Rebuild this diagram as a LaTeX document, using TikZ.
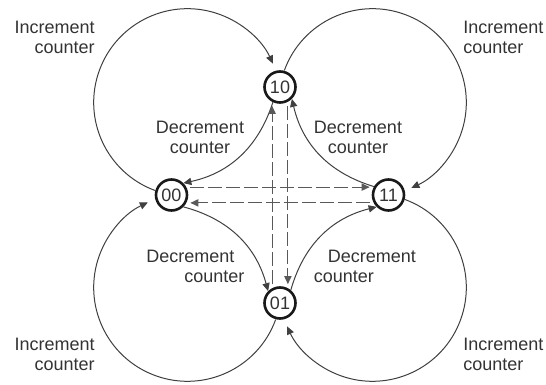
\documentclass[tikz,border=0pt]{standalone}
\usepackage{fontspec}
\setmainfont{Liberation Sans}
\usetikzlibrary{arrows.meta}

\begin{document}
\begin{tikzpicture}[x=0.5pt, y=0.5pt,
  state/.style={circle, draw=black!90, line width=1.3pt, minimum size=15.5pt, inner sep=0pt,
    font=\fontsize{9}{10}\selectfont, text=black!80},
  lbl/.style={font=\fontsize{9}{10}\selectfont, text=black!80, inner sep=0pt},
  flow/.style={draw=black!75, line width=0.5pt, -{Triangle[length=4pt,width=3.6pt]}},
  jump/.style={flow, draw=black!65, line width=0.6pt, dash pattern=on 7pt off 2pt,
    shorten >=2pt, shorten <=2pt}]
\useasboundingbox (0,0) rectangle (546,385);

% states
\node[state] (s10) at (280,298) {10};
\node[state] (s00) at (171.5,190) {00};
\node[state] (s11) at (388.5,190) {11};
\node[state] (s01) at (280,82) {01};

% centres of the four loops
\coordinate (C1) at (187.5,282.5);
\coordinate (C2) at (372.5,282.5);
\coordinate (C3) at (372.5,97.5);
\coordinate (C4) at (187.5,97.5);

% increment: round the outside
\draw[flow] ([shift={(250:46.9pt)}]C1) arc[start angle=250, end angle=24.5, radius=46.9pt];
\draw[flow] ([shift={(160:46.9pt)}]C2) arc[start angle=160, end angle=-65.5, radius=46.9pt];
\draw[flow] ([shift={(70:46.9pt)}]C3) arc[start angle=70, end angle=-155.5, radius=46.9pt];
\draw[flow] ([shift={(340:46.9pt)}]C4) arc[start angle=340, end angle=115, radius=46.9pt];

% decrement: through the inside
\draw[flow] (s10.245) to[bend left=30] (s00.45);
\draw[flow] (s11.150) to[bend left=30] (s10.315);
\draw[flow] (s01.50) to[bend left=30] (s11.225);
\draw[flow] (s00.315) to[bend left=30] (s01.135);

% jumps
\draw[jump] (s00.28) -- (s11.152);
\draw[jump] (s11.208) -- (s00.332);
\draw[jump] (s01.118) -- (s10.242);
\draw[jump] (s10.298) -- (s01.62);

% labels
\node[lbl, anchor=east, align=right] (incA) at (95,348) {Increment\\counter};
\node[lbl, anchor=west, align=left] (incB) at (463,348) {Increment\\counter};
\node[lbl, anchor=east, align=right] (incC) at (95,30.5) {Increment\\counter};
\node[lbl, anchor=west, align=left] (incD) at (463,30.5) {Increment\\counter};
\node[lbl, align=center] (decA) at (200,247.5) {Decrement\\counter};
\node[lbl, align=center] (decB) at (358,247.5) {Decrement\\counter};
\node[lbl, anchor=west, align=left] (decC) at (146,118.5) {Decrement\\\hspace*{19pt}counter};
\node[lbl, anchor=west, align=left] (decD) at (313.5,118.5) {\hspace*{7pt}Decrement\\counter};
\end{tikzpicture}
\end{document}
